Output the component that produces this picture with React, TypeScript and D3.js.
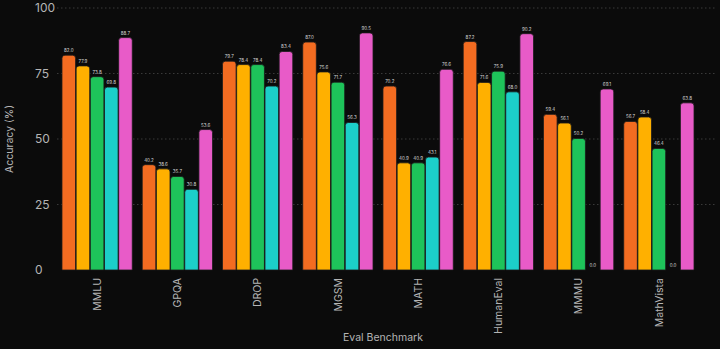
import React from "react";
import * as d3 from "d3";

const categories = ["MMLU", "GPQA", "DROP", "MGSM", "MATH", "HumanEval", "MMMU", "MathVista"];
const seriesNames = ["GPT-4o mini", "Gemini Flash", "Claude Haiku", "GPT-3.5 Turbo", "GPT-4o"];
const gpt4oMini = [82.0, 40.2, 79.7, 87.0, 70.2, 87.2, 59.4, 56.7];
const geminiFlash = [77.9, 38.6, 78.4, 75.6, 40.9, 71.6, 56.1, 58.4];
const claudeHaiku = [73.8, 35.7, 78.4, 71.7, 40.9, 75.9, 50.2, 46.4];
const gpt35Turbo = [69.8, 30.8, 70.2, 56.3, 43.1, 68.0, 0.0, 0.0];
const gpt4o = [88.7, 53.6, 83.4, 90.5, 76.6, 90.2, 69.1, 63.8];
const yTicks = [0, 25, 50, 75, 100];
const colors = ["#f36c21", "#ffb000", "#1ec35a", "#1ccfc9", "#e85bc8"];

const series = [gpt4oMini, geminiFlash, claudeHaiku, gpt35Turbo, gpt4o];

export default function App() {
  const W = 720, H = 349;
  const x0 = d3.scaleBand<string>().domain(categories).range([57, 699]).paddingInner(0.11).paddingOuter(0.055);
  const x1 = d3.scaleBand<number>().domain(d3.range(series.length)).range([0, x0.bandwidth()]).padding(0.04);
  const y = d3.scaleLinear().domain([0, 100]).range([270, 8]);
  const r = 3;
  const barPath = (x: number, yt: number, w: number, yb: number) => {
    const h = yb - yt;
    const rr = Math.min(r, h, w / 2);
    return `M${x},${yb}V${yt + rr}Q${x},${yt} ${x + rr},${yt}H${x + w - rr}Q${x + w},${yt} ${x + w},${yt + rr}V${yb}Z`;
  };
  return (
    <svg width={W} height={H} style={{ position: "absolute", left: 0, top: 0, background: "#0b0b0b" }} fontFamily="Inter, 'DejaVu Sans', sans-serif">
      <rect x={0} y={0} width={W} height={H} fill="#0b0b0b" />
      {yTicks.map((t) => (
        <g key={t}>
          {t > 0 && (
            <line x1={57} x2={715} y1={y(t)} y2={y(t)} stroke="#3a3a3a" strokeWidth={1} strokeDasharray="1.5,2.5" />
          )}
          <text x={35} y={y(t)} dy="0.35em" fill="#b5b5b5" fontSize={12}>{t}</text>
        </g>
      ))}
      <text transform={`translate(13,${y(50)}) rotate(-90)`} textAnchor="middle" fill="#b5b5b5" fontSize={10.5}>Accuracy (%)</text>
      {categories.map((c, ci) => (
        <g key={c} transform={`translate(${x0(c)},0)`}>
          {series.map((s, si) => {
            const v = s[ci];
            const bx = x1(si)!;
            const bw = x1.bandwidth();
            return (
              <g key={si}>
                {v > 0 && (
                  <path d={barPath(bx, y(v), bw, y(0))} fill={colors[si]} stroke="#1a1a1a" strokeWidth={0.8} />
                )}
                <text x={bx + bw / 2} y={y(v) - 3} textAnchor="middle" fill="#d8d8d8" fontSize={4.5}>{v.toFixed(1)}</text>
              </g>
            );
          })}
          <text transform={`translate(${x0.bandwidth() / 2},278) rotate(-90)`} textAnchor="end" dy="0.35em" fill="#b5b5b5" fontSize={10.5}>{c}</text>
        </g>
      ))}
      <text x={383} y={341} textAnchor="middle" fill="#b5b5b5" fontSize={10.5}>Eval Benchmark</text>
    </svg>
  );
}
